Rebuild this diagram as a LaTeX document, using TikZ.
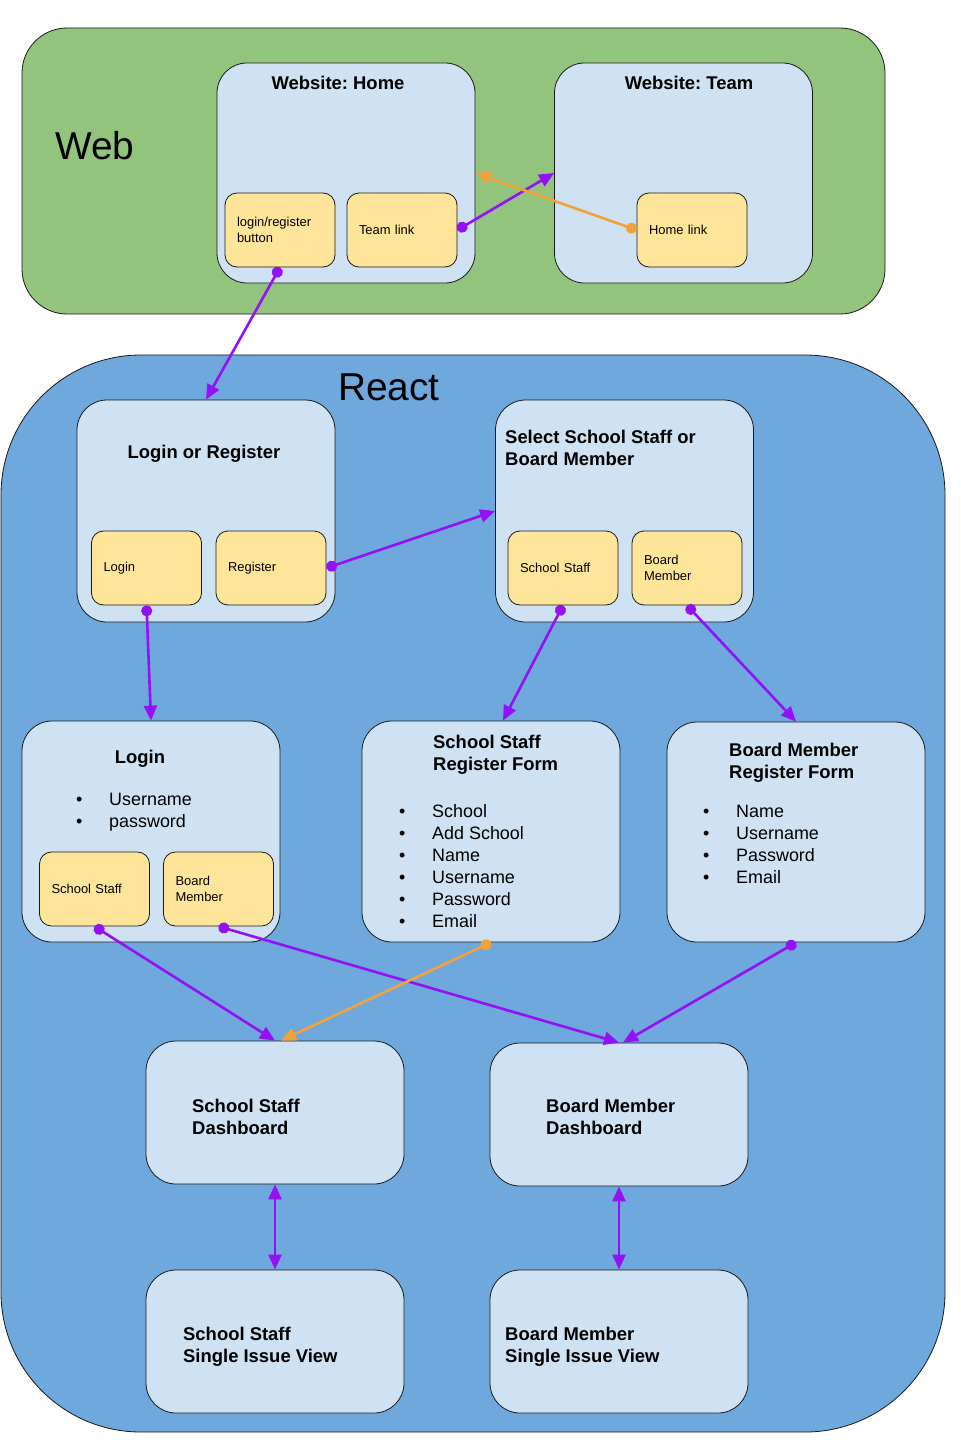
\documentclass[tikz,border=0pt]{standalone}
\usepackage{fontspec}
\setmainfont{Liberation Sans}
\usetikzlibrary{arrows.meta,positioning}
\definecolor{webgreen}{HTML}{93C47D}
\definecolor{reactblue}{HTML}{6FA8DC}
\definecolor{pageblue}{HTML}{CFE2F3}
\definecolor{widgetyellow}{HTML}{FFE599}
\definecolor{linkpurple}{HTML}{9410F5}
\definecolor{linkorange}{HTML}{F2A23A}
\newcommand{\lstbullet}{\makebox[33bp][l]{\textbullet}}
\tikzstyle{area}=[draw=black!90, line width=0.8bp, inner sep=0]
\tikzstyle{page}=[draw=black!90, fill=pageblue, rounded corners=30bp, line width=0.8bp, minimum width=258bp, minimum height=220bp, inner sep=0]
\tikzstyle{pagelow}=[page, minimum height=143bp]
\tikzstyle{widget}=[draw=black!90, fill=widgetyellow, rounded corners=12bp, line width=0.8bp, minimum width=110bp, minimum height=74bp, inner xsep=12bp, inner ysep=0, text width=86bp, align=left, font=\fontsize{13}{16}\selectfont]
\tikzstyle{title}=[inner sep=0, align=left, font=\bfseries\fontsize{18.5}{22}\selectfont]
\tikzstyle{items}=[inner sep=0, align=left, anchor=base west, font=\fontsize{18}{22}\selectfont]
\tikzstyle{big}=[inner sep=0, anchor=base west, font=\fontsize{39}{44}\selectfont]
\tikzstyle{link}=[color=linkpurple, line width=2.6bp, {Circle[length=11bp]}-{Triangle[length=15bp,width=13bp]}]
\tikzstyle{twoway}=[color=linkpurple, line width=2.6bp, {Triangle[length=15bp,width=13bp]}-{Triangle[length=15bp,width=13bp]}]

\begin{document}
\frenchspacing
\begin{tikzpicture}[x=1bp,y=-1bp]
\useasboundingbox (0,0) rectangle (960,1440);

% web part
\node[area, fill=webgreen, rounded corners=45bp, minimum width=863bp, minimum height=286bp] (web) at (453.5,171) {};
\node[big] (weblbl) at (55,160) {Web};

\node[page] (webhome) at (346,173) {};
\node[title, anchor=base] (twebhome) at (338,90) {Website: Home};
\node[widget] (lrbtn) at (280,230) {login/register\\button};
\node[widget] (teamlink) at (402,230) {Team link};

\node[page] (webteam) at (683.5,173) {};
\node[title, anchor=base] (twebteam) at (689,90) {Website: Team};
\node[widget] (homelink) at (692,230) {Home link};

% react part (base anchor = last line)
\node[area, fill=reactblue, rounded corners=140bp, minimum width=944bp, minimum height=1077bp] (react) at (473,893.5) {};
\node[big] (reactlbl) at (338,400) {React};

\node[page, minimum height=222bp] (logreg) at (206,511) {};
\node[title, anchor=base] (tlogreg) at (204,458) {Login or Register};
\node[widget] (loginw) at (146.5,568) {Login};
\node[widget] (register) at (271,568) {Register};

\node[page, minimum height=222bp] (select) at (624.5,511) {};
\node[title, anchor=base west] (tselect) at (505,465) {Select School Staff or\\Board Member};
\node[widget] (selstaff) at (563,568) {School Staff};
\node[widget] (selboard) at (687,568) {Board\\Member};

\node[page, minimum height=221bp] (loginpg) at (151,831.5) {};
\node[title, anchor=base] (tloginpg) at (140,763) {Login};
\node[items] (lloginpg) at (76,827) {\lstbullet Username\\\lstbullet password};
\node[widget] (lgstaff) at (94.5,889) {School Staff};
\node[widget] (lgboard) at (218.5,889) {Board\\Member};

\node[page, minimum height=221bp] (ssform) at (491,831.5) {};
\node[title, anchor=base west] (tssform) at (433,770) {School Staff\\Register Form};
\node[items] (lssform) at (399,927) {\lstbullet School\\\lstbullet Add School\\\lstbullet Name\\\lstbullet Username\\\lstbullet Password\\\lstbullet Email};

\node[page] (bmform) at (796,832) {};
\node[title, anchor=base west] (tbmform) at (729,778) {Board Member\\Register Form};
\node[items] (lbmform) at (703,883) {\lstbullet Name\\\lstbullet Username\\\lstbullet Password\\\lstbullet Email};

\node[pagelow] (ssdash) at (275,1112.5) {};
\node[title, anchor=base west] (tssdash) at (192,1134) {School Staff\\Dashboard};
\node[pagelow] (bmdash) at (619,1114.5) {};
\node[title, anchor=base west] (tbmdash) at (546,1134) {Board Member\\Dashboard};

\node[pagelow] (ssview) at (275,1341.5) {};
\node[title, anchor=base west] (tssview) at (183,1362) {School Staff\\Single Issue View};
\node[pagelow] (bmview) at (619,1341.5) {};
\node[title, anchor=base west] (tbmview) at (505,1362) {Board Member\\Single Issue View};

% links
\draw[link] (teamlink.east) -- (webteam.west);
\draw[link, color=linkorange] (homelink.west) -- (webhome.east);
\draw[link] (lrbtn.south) -- (logreg.north);
\draw[link] (register.east) -- (select.west);
\draw[link] (loginw.south) -- (loginpg.north);
\draw[link] (selstaff.south) -- ([xshift=12bp]ssform.north);
\draw[link] (selboard.south) -- (bmform.north);
\draw[link] (lgstaff.south) -- (ssdash.north);
\draw[link] (lgboard.south) -- (bmdash.north);
\draw[link, color=linkorange] (ssform.south) -- ([xshift=6bp]ssdash.north);
\draw[link] (bmform.south) -- ([xshift=4bp]bmdash.north);
\draw[twoway] (ssdash.south) -- (ssview.north);
\draw[twoway] (bmdash.south) -- (bmview.north);
\end{tikzpicture}
\end{document}
